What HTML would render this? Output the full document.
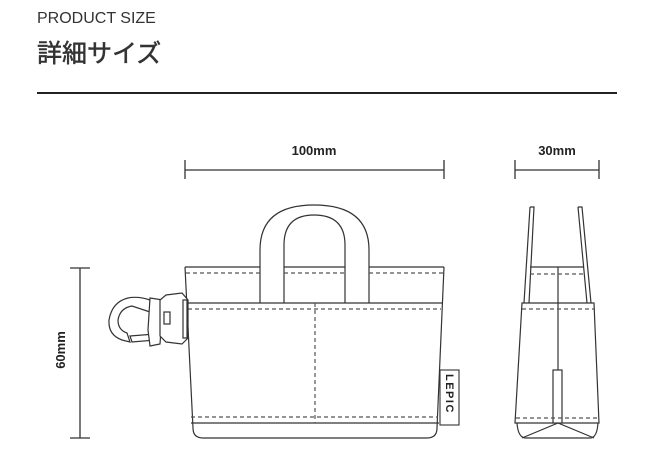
<!DOCTYPE html>
<html><head><meta charset="utf-8"><style>
html,body{margin:0;padding:0;background:#fff;width:664px;height:458px;overflow:hidden}
svg{display:block}
</style></head><body>
<svg width="664" height="458" viewBox="0 0 664 458" xmlns="http://www.w3.org/2000/svg">
<text x="37" y="23" font-family="Liberation Sans, sans-serif" font-size="16" fill="#333">PRODUCT SIZE</text>
<text x="37" y="62" font-family="Liberation Sans, 'Noto Sans CJK JP', sans-serif" font-size="25" font-weight="normal" fill="#333" stroke="#333" stroke-width="0.5">詳細サイズ</text>
<rect x="37" y="92" width="580" height="2" fill="#222"/>

<g stroke="#333" stroke-width="1.3" fill="none">
<line x1="185" y1="170" x2="444" y2="170"/><line x1="185" y1="160" x2="185" y2="179"/><line x1="444" y1="160" x2="444" y2="179"/>
<line x1="515" y1="170" x2="599" y2="170"/><line x1="515" y1="160" x2="515" y2="179"/><line x1="599" y1="160" x2="599" y2="179"/>
<line x1="80" y1="268" x2="80" y2="438"/><line x1="70" y1="268" x2="90" y2="268"/><line x1="70" y1="438" x2="90" y2="438"/>
</g>
<g font-family="Liberation Sans, sans-serif" font-size="13" font-weight="bold" fill="#222" text-anchor="middle">
<text x="314" y="155">100mm</text>
<text x="557" y="155">30mm</text>
<text x="65" y="350" transform="rotate(-90 65 350)">60mm</text>
</g>

<g stroke="#333" stroke-width="1.2" fill="none">
<path d="M260 303 V250 Q260 205 314 205 Q369 205 369 250 V303"/>
<path d="M284 303 V245 Q284 215 314 215 Q345 215 345 245 V303"/>
<path d="M185 267 H260 M284 267 H345 M369 267 H444"/>
<path d="M185 267 L193 428 Q193 438 203 438 H427 Q437 438 437 428 L444 267"/>
<path d="M187 303 H442 M191 423 H439"/>
</g>
<g stroke="#555" stroke-width="1.2" fill="none" stroke-dasharray="4 3">
<path d="M186 273 H260 M284 273 H345 M369 273 H443"/>
<path d="M188 309 H441 M191 417 H438 M315 303 V423"/>
</g>
<rect x="440" y="370" width="19" height="55" fill="#fff" stroke="#333" stroke-width="1.1"/>
<text x="446" y="374" font-family="Liberation Sans, sans-serif" font-size="11" font-weight="bold" fill="#222" transform="rotate(90 446 374)" letter-spacing="1.5">LEPIC</text>

<g stroke="#333" stroke-width="1.2" fill="#fff">
<path d="M150 300 Q138 296 128 298 Q112 302 109 320 Q108 335 122 340 L130 342 L127 333 Q118 330 118 320 Q120 308 132 306 L150 312 Z"/>
<path d="M130 336 L155 334 L156 340 L132 342 Z"/>
<path d="M150 298 L163 300 L160 344 L150 346 L148 330 Z"/>
<path d="M166 295 L182 293 L188 300 L188 338 L182 344 L166 342 L160 336 L160 300 Z"/>
<rect x="164" y="312" width="6" height="12"/>
<path d="M183 300 L187 300 L187 338 L183 338 Z"/>
</g>

<g stroke="#333" stroke-width="1.2" fill="none">
<path d="M530 207 L534 207 L529 303 M530 207 L524 303"/>
<path d="M578 207 L582 207 L591 303 M578 207 L587 303"/>
<path d="M530 267 H584"/>
<path d="M522 303 H594 L599 423 H515 Z"/>
<path d="M558 267 V370"/>
<rect x="553" y="370" width="9" height="53" fill="#fff"/>
<path d="M517 423 Q518 438 526 438 H590 Q597 438 598 423"/>
<path d="M522 438 L558 423 L594 438"/>
</g>
<g stroke="#555" stroke-width="1.2" fill="none" stroke-dasharray="4 3">
<path d="M530 274 H584 M522 309 H594 M516 418 H598"/>
</g>
</svg>
</body></html>
